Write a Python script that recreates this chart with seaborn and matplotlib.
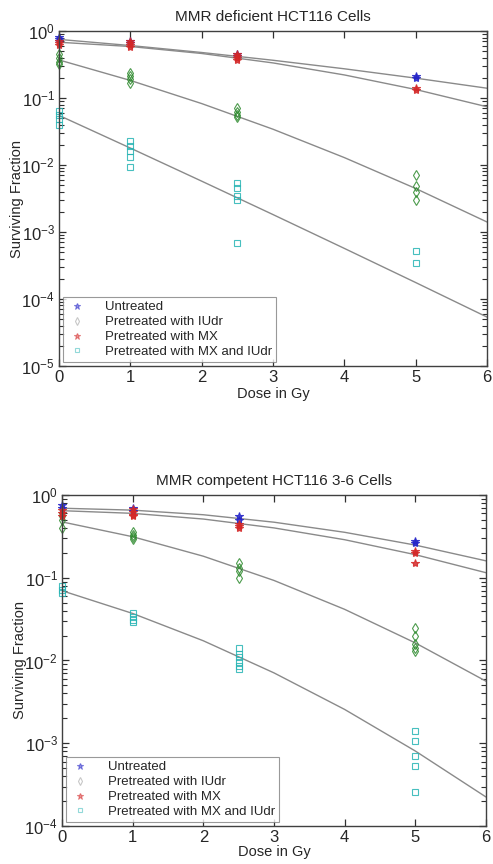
import numpy as np
import pandas as pd
import matplotlib
matplotlib.use("Agg")
import matplotlib.pyplot as plt
import seaborn as sns
from matplotlib.lines import Line2D
from matplotlib.ticker import LogLocator, NullFormatter

sns.set_style("white")
plt.rcParams['font.family'] = ['Liberation Sans', 'DejaVu Sans']

# ---- MMR deficient HCT116 (top panel) ----
def_unt_dose = [0, 0, 0, 1, 1, 2.5, 2.5, 5, 5]
def_unt_sf = [0.81, 0.76, 0.72, 0.70, 0.66, 0.45, 0.42, 0.215, 0.20]
def_iudr_dose = [0, 0, 0, 0, 1, 1, 1, 1, 2.5, 2.5, 2.5, 2.5, 5, 5, 5, 5]
def_iudr_sf = [0.45, 0.40, 0.35, 0.32, 0.24, 0.21, 0.19, 0.17,
               0.070, 0.062, 0.056, 0.052, 0.007, 0.0048, 0.0039, 0.003]
def_mx_dose = [0, 0, 0, 1, 1, 1, 1, 2.5, 2.5, 2.5, 2.5, 5, 5]
def_mx_sf = [0.70, 0.66, 0.62, 0.70, 0.66, 0.62, 0.58, 0.45, 0.42, 0.40, 0.37, 0.14, 0.13]
def_both_dose = [0, 0, 0, 0, 1, 1, 1, 1, 1, 2.5, 2.5, 2.5, 2.5, 2.5, 5, 5]
def_both_sf = [0.065, 0.055, 0.048, 0.040, 0.023, 0.019, 0.016, 0.013, 0.0093,
               0.0053, 0.0045, 0.0034, 0.0030, 0.00068, 0.00052, 0.00035]

# fitted curves at whole-Gy steps
fit_dose = [0, 1, 2, 3, 4, 5, 6]
def_fit_unt = [0.75, 0.607, 0.478, 0.366, 0.273, 0.198, 0.140]
def_fit_mx = [0.68, 0.587, 0.462, 0.334, 0.221, 0.134, 0.074]
def_fit_iudr = [0.37, 0.183, 0.0826, 0.0342, 0.0129, 0.00446, 0.00141]
def_fit_both = [0.055, 0.0179, 0.00574, 0.00182, 0.000569, 0.000176, 0.0000537]

# ---- MMR competent HCT116 3-6 (bottom panel) ----
com_unt_dose = [0, 0, 1, 1, 2.5, 2.5, 5, 5]
com_unt_sf = [0.75, 0.69, 0.70, 0.64, 0.56, 0.50, 0.28, 0.26]
com_iudr_dose = [0, 0, 0, 0, 1, 1, 1, 1, 2.5, 2.5, 2.5, 2.5, 5, 5, 5, 5, 5]
com_iudr_sf = [0.60, 0.55, 0.50, 0.40, 0.36, 0.33, 0.31, 0.29,
               0.15, 0.13, 0.12, 0.10, 0.025, 0.020, 0.016, 0.014, 0.013]
com_mx_dose = [0, 0, 0, 1, 1, 1, 1, 2.5, 2.5, 2.5, 5, 5, 5]
com_mx_sf = [0.65, 0.60, 0.55, 0.68, 0.62, 0.58, 0.55, 0.45, 0.42, 0.40, 0.21, 0.20, 0.15]
com_both_dose = [0, 0, 0, 1, 1, 1, 1, 2.5, 2.5, 2.5, 2.5, 2.5, 2.5, 5, 5, 5, 5, 5]
com_both_sf = [0.080, 0.072, 0.065, 0.038, 0.034, 0.031, 0.029,
               0.014, 0.012, 0.011, 0.0095, 0.0085, 0.0078,
               0.0014, 0.00105, 0.0007, 0.00053, 0.00026]

com_fit_unt = [0.692, 0.656, 0.577, 0.469, 0.354, 0.248, 0.160]
com_fit_mx = [0.646, 0.600, 0.512, 0.400, 0.288, 0.190, 0.115]
com_fit_iudr = [0.473, 0.313, 0.182, 0.0927, 0.0415, 0.0163, 0.00562]
com_fit_both = [0.0697, 0.0370, 0.0173, 0.00708, 0.00256, 0.000805, 0.000224]

labels = ["Untreated", "Pretreated with IUdr", "Pretreated with MX",
          "Pretreated with MX and IUdr"]
colors = ["#2424c8", "#2e8a2e", "#d42828", "#27b4b4"]
markers = ["*", "d", "*", "s"]
filled = [True, False, True, False]
msizes = [6, 5, 6, 4.5]


def draw_panel(ax, series, fits, title, ymin, xpad):
    for f in fits:
        sns.lineplot(x=fit_dose, y=f, ax=ax, color="#8a8a8a", linewidth=1.0,
                     estimator=None, sort=False, legend=False)
    for i, (d, s) in enumerate(series):
        df = pd.DataFrame({"dose": d, "sf": s})
        sns.lineplot(data=df, x="dose", y="sf", ax=ax, estimator=None,
                     sort=False, linestyle="", marker=markers[i],
                     markersize=msizes[i], color=colors[i],
                     markerfacecolor=colors[i] if filled[i] else "none",
                     markeredgecolor=colors[i], markeredgewidth=0.8,
                     alpha=0.85, clip_on=False, legend=False)
    ax.set_yscale("log")
    ax.set_xlim(0, 6)
    ax.set_ylim(ymin, 1)
    ax.set_xticks(range(7))
    ax.yaxis.set_major_locator(LogLocator(base=10, numticks=10))
    ax.yaxis.set_minor_locator(LogLocator(base=10, subs=np.arange(2, 10), numticks=50))
    ax.yaxis.set_minor_formatter(NullFormatter())
    ax.tick_params(axis="both", which="major", direction="in", length=5,
                   bottom=True, left=True, top=True, right=True,
                   labelsize=12, width=0.9, pad=3, color="#303030")
    ax.tick_params(axis="y", which="minor", direction="in", length=3.5,
                   left=True, right=True, width=0.8, color="#303030")
    for sp in ax.spines.values():
        sp.set_color("#404040")
        sp.set_linewidth(1.0)
    ax.set_title(title, fontsize=11, pad=7)
    ax.set_xlabel("Dose in Gy", fontsize=10.5, labelpad=xpad)
    ax.set_ylabel("Surviving Fraction", fontsize=10.5, labelpad=-2)
    handles = [Line2D([], [], linestyle="", marker=markers[i], markersize=msizes[i] - 1,
                      color=colors[i], alpha=0.5,
                      markerfacecolor=colors[i] if filled[i] else "none",
                      markeredgecolor=colors[i] if i != 1 else "#909090",
                      markeredgewidth=0.8)
               for i in range(4)]
    leg = ax.legend(handles, labels, loc="lower left", fontsize=9.5,
                    frameon=True, fancybox=False, borderaxespad=0.3,
                    handlelength=1.6, handletextpad=1.3, labelspacing=0.2,
                    borderpad=0.3, numpoints=1)
    leg.get_frame().set_edgecolor("#808080")
    leg.get_frame().set_linewidth(0.8)


fig = plt.figure(figsize=(4.93, 8.64), dpi=100)
ax1 = fig.add_axes([0.1197, 0.5764, 0.8682, 0.3877])
ax2 = fig.add_axes([0.1258, 0.0440, 0.8600, 0.3831])

draw_panel(ax1,
           [(def_unt_dose, def_unt_sf), (def_iudr_dose, def_iudr_sf),
            (def_mx_dose, def_mx_sf), (def_both_dose, def_both_sf)],
           [def_fit_unt, def_fit_mx, def_fit_iudr, def_fit_both],
           "MMR deficient HCT116 Cells", 1e-5, 1)
draw_panel(ax2,
           [(com_unt_dose, com_unt_sf), (com_iudr_dose, com_iudr_sf),
            (com_mx_dose, com_mx_sf), (com_both_dose, com_both_sf)],
           [com_fit_unt, com_fit_mx, com_fit_iudr, com_fit_both],
           "MMR competent HCT116 3-6 Cells", 1e-4, 0)

fig.savefig("out.png", dpi=100)
